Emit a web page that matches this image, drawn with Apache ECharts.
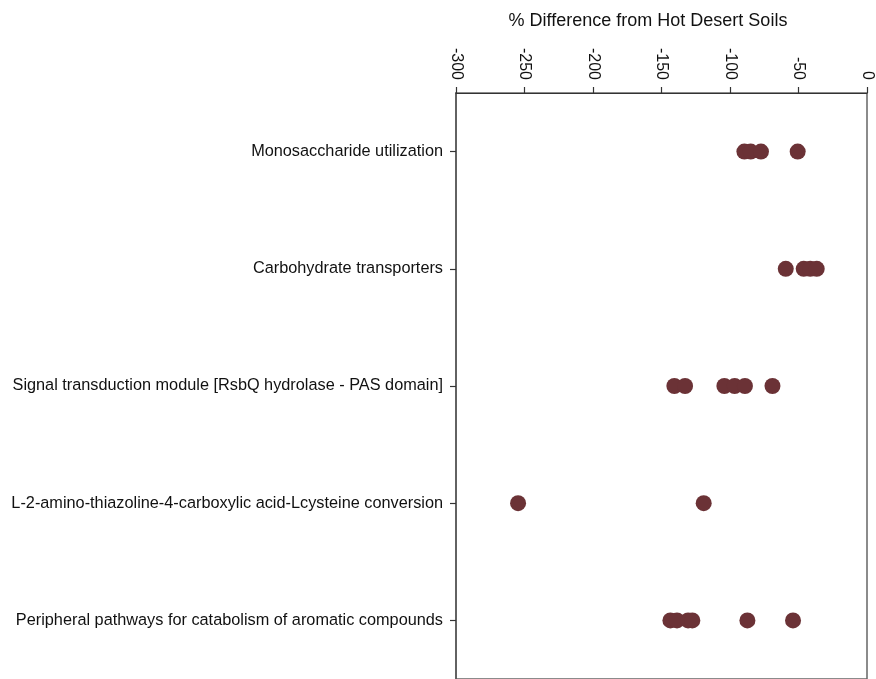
<!DOCTYPE html>
<html>
<head>
<meta charset="utf-8">
<script src="https://cdn.jsdelivr.net/npm/echarts@6/dist/echarts.min.js"></script>
<style>
html,body{margin:0;padding:0;background:#fff;}
#chart{width:876px;height:679px;}
</style>
</head>
<body>
<div id="chart"></div>
<script>
const categories = [
  "Monosaccharide utilization",
  "Carbohydrate transporters",
  "Signal transduction module [RsbQ hydrolase - PAS domain]",
  "L-2-amino-thiazoline-4-carboxylic acid-Lcysteine conversion",
  "Peripheral pathways for catabolism of aromatic compounds"
];
const monosaccharide = [-89.5, -84.9, -77.4, -50.6];
const carbohydrate = [-59.3, -46.2, -41.4, -36.7];
const signalTransduction = [-140.6, -132.8, -104.1, -96.6, -89.1, -69.0];
const cysteineConversion = [-254.7, -119.2];
const peripheral = [-143.5, -138.7, -130.6, -127.5, -87.3, -54.0];
const xTicks = [-300, -250, -200, -150, -100, -50, 0];
const axisTitle = "% Difference from Hot Desert Soils";

const groups = [monosaccharide, carbohydrate, signalTransduction, cysteineConversion, peripheral];
const points = [];
groups.forEach((vals, i) => vals.forEach(v => points.push([v, categories[i]])));

const FONT = "'Liberation Sans', Arial, Helvetica, sans-serif";
const chart = echarts.init(document.getElementById('chart'), null, {renderer: 'canvas'});
chart.setOption({
  backgroundColor: '#ffffff',
  animation: false,
  title: {
    text: axisTitle,
    left: 643,
    top: 7,
    textAlign: 'center',
    textStyle: {fontFamily: FONT, fontSize: 18, fontWeight: 'normal', color: '#111'}
  },
  grid: {
    left: 456, right: 9, top: 93, height: 590,
    show: true, borderColor: '#666', borderWidth: 1.5, backgroundColor: 'transparent'
  },
  xAxis: {
    type: 'value',
    position: 'top',
    min: xTicks[0],
    max: xTicks[xTicks.length - 1],
    interval: 50,
    axisLine: {show: true, onZero: false, lineStyle: {color: '#333', width: 1.2}},
    axisTick: {show: true, length: 6, lineStyle: {color: '#333', width: 1.2}},
    splitLine: {show: false},
    axisLabel: {
      rotate: 90,
      margin: 13,
      fontFamily: FONT,
      fontSize: 16,
      color: '#111',
      showMinLabel: true,
      showMaxLabel: true,
      hideOverlap: false
    }
  },
  yAxis: {
    type: 'category',
    data: categories,
    inverse: true,
    axisLine: {show: true, onZero: false, lineStyle: {color: '#555', width: 1.5}},
    axisTick: {show: true, alignWithLabel: true, length: 6, lineStyle: {color: '#333', width: 1.2}},
    splitLine: {show: false},
    axisLabel: {
      margin: 13,
      fontFamily: FONT,
      fontSize: 16.3,
      color: '#111'
    }
  },
  series: [{
    type: 'scatter',
    data: points,
    symbol: 'circle',
    symbolSize: 16,
    itemStyle: {color: '#6b3236', opacity: 1}
  }]
});
</script>
</body>
</html>
